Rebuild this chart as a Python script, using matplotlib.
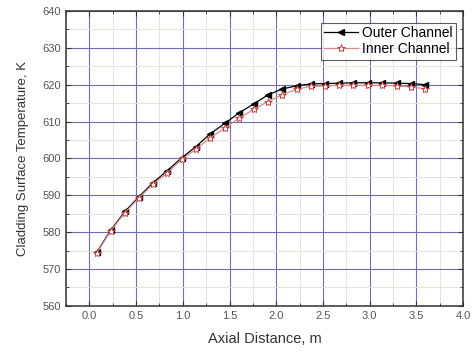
import matplotlib
matplotlib.use("Agg")
import matplotlib.pyplot as plt
from matplotlib.ticker import MultipleLocator

axial = [0.08, 0.23, 0.38, 0.53, 0.68, 0.83, 0.99, 1.14, 1.29, 1.45, 1.60, 1.76,
         1.91, 2.06, 2.22, 2.37, 2.52, 2.67, 2.82, 2.98, 3.13, 3.29, 3.44, 3.59]
outer_temp = [574.6, 580.6, 585.6, 589.6, 593.4, 596.6, 600.2, 603.2, 606.6, 609.5,
              612.3, 614.8, 617.2, 618.8, 619.7, 620.2, 620.3, 620.4, 620.5, 620.5,
              620.5, 620.4, 620.3, 620.0]
inner_temp = [574.4, 580.4, 585.3, 589.3, 593.0, 596.0, 599.8, 602.5, 605.5, 608.2,
              610.9, 613.3, 615.4, 617.2, 618.8, 619.5, 619.7, 619.8, 619.8, 619.8,
              619.8, 619.7, 619.4, 618.9]

plt.rcParams['font.family'] = ['Liberation Sans', 'DejaVu Sans']

fig = plt.figure(figsize=(4.72, 3.52), dpi=100)
ax = fig.add_axes([0.140, 0.131, 0.841, 0.838])

ax.plot(axial, outer_temp, color='black', lw=0.9, marker='<', ms=5,
        markerfacecolor='black', markeredgecolor='black', label='Outer Channel', zorder=3)
ax.plot(axial, inner_temp, color='#d98a8a', lw=0.9, marker='*', ms=6,
        markerfacecolor='white', markeredgecolor='#c84040', markeredgewidth=0.7,
        label='Inner Channel', zorder=4)

ax.set_xlim(-0.25, 4.0)
ax.set_ylim(560, 640)
ax.xaxis.set_major_locator(MultipleLocator(0.5))
ax.xaxis.set_minor_locator(MultipleLocator(0.25))
ax.yaxis.set_major_locator(MultipleLocator(10))
ax.yaxis.set_minor_locator(MultipleLocator(5))
ax.set_xticks([0.0, 0.5, 1.0, 1.5, 2.0, 2.5, 3.0, 3.5, 4.0])

ax.grid(which='major', color='#6e6eb0', lw=0.8)
ax.grid(which='minor', color='#dde8da', lw=0.7)
ax.set_axisbelow(True)

ax.tick_params(which='both', direction='in', top=True, right=True,
               labelsize=8, labelcolor='#555555', color='#333333')
ax.tick_params(which='major', length=3.5, width=0.8)
ax.tick_params(which='minor', length=2, width=0.6)
for s in ax.spines.values():
    s.set_linewidth(1.1)
    s.set_color('#333333')

ax.set_xlabel('Axial Distance, m', fontsize=10.5, color='#333333', labelpad=8)
ax.set_ylabel('Cladding Surface Temperature, K', fontsize=9.5, color='#333333',
              labelpad=10)

leg = ax.legend(loc='upper right', fontsize=10, frameon=True, fancybox=False,
                edgecolor='#333333', handlelength=2.4, borderpad=0.25,
                labelspacing=0.15, handletextpad=0.3, borderaxespad=0,
                bbox_to_anchor=(0.982, 0.96))
leg.get_frame().set_linewidth(0.8)

fig.savefig('out.png', dpi=100)
